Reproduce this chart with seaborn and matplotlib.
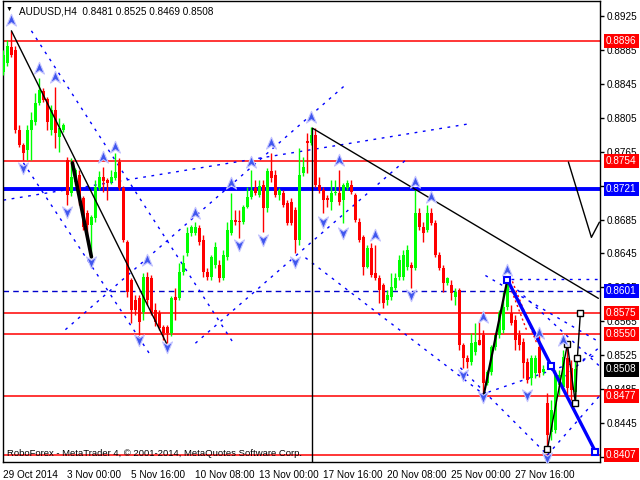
import numpy as np
import matplotlib
matplotlib.use("Agg")
import matplotlib.pyplot as plt
import seaborn as sns
from matplotlib.path import Path
import matplotlib.transforms as mtrans

sns.set_theme(style="white")
plt.rcParams['font.family'] = ['Liberation Sans', 'DejaVu Sans']

# ---------------- data ----------------
opens = [0.8859,0.8870,0.8889,0.8885,0.8791,0.8773,0.8767,0.8791,0.8800,0.8823,
         0.8837,0.8827,0.8791,0.8815,0.8783,0.8791,0.8755,0.8716,0.8729,0.8738,
         0.8711,0.8693,0.8679,0.8687,0.8722,0.8735,0.8732,0.8729,0.8734,0.8753,
         0.8722,0.8659,0.8614,0.8590,0.8592,0.8576,0.8617,0.8616,0.8578,0.8575,
         0.8558,0.8558,0.8551,0.8594,0.8592,0.8623,0.8646,0.8669,0.8669,0.8675,
         0.8661,0.8623,0.8617,0.8631,0.8631,0.8616,0.8641,0.8669,0.8685,0.8683,
         0.8682,0.8700,0.8712,0.8722,0.8714,0.8726,0.8699,0.8742,0.8738,0.8714,
         0.8716,0.8705,0.8706,0.8696,0.8661,0.8740,0.8778,0.8775,0.8785,0.8726,
         0.8720,0.8711,0.8706,0.8716,0.8716,0.8708,0.8722,0.8726,0.8714,0.8682,
         0.8665,0.8629,0.8652,0.8622,0.8616,0.8608,0.8590,0.8594,0.8604,0.8617,
         0.8617,0.8629,0.8631,0.8628,0.8693,0.8676,0.8673,0.8693,0.8681,0.8643,
         0.8628,0.8610,0.8608,0.8594,0.8602,0.8537,0.8522,0.8517,0.8529,0.8543,
         0.8549,0.8492,0.8505,0.8535,0.8549,0.8555,0.8582,0.8575,0.8567,0.8549,
         0.8540,0.8517,0.8498,0.8504,0.8535,0.8505,0.8468,0.8434,0.8436,0.8490,
         0.8487,0.8522,0.8510,0.8481]
highs = [0.8885,0.8897,0.8908,0.8890,0.8797,0.8775,0.8797,0.8812,0.8835,0.8852,
         0.8840,0.8830,0.8820,0.8842,0.8805,0.8799,0.8759,0.8758,0.8746,0.8744,
         0.8713,0.8696,0.8690,0.8732,0.8742,0.8747,0.8734,0.8744,0.8764,0.8758,
         0.8725,0.8661,0.8616,0.8596,0.8596,0.8622,0.8623,0.8620,0.8587,0.8578,
         0.8561,0.8561,0.8595,0.8604,0.8634,0.8643,0.8676,0.8679,0.8682,0.8679,
         0.8667,0.8628,0.8643,0.8659,0.8637,0.8649,0.8682,0.8716,0.8696,0.8696,
         0.8702,0.8724,0.8744,0.8732,0.8732,0.8732,0.8746,0.8764,0.8744,0.8722,
         0.8720,0.8708,0.8711,0.8700,0.8770,0.8759,0.8787,0.8794,0.8793,0.8735,
         0.8724,0.8714,0.8732,0.8732,0.8744,0.8728,0.8732,0.8732,0.8716,0.8687,
         0.8667,0.8655,0.8657,0.8655,0.8620,0.8610,0.8602,0.8622,0.8622,0.8643,
         0.8649,0.8655,0.8635,0.8720,0.8699,0.8682,0.8702,0.8699,0.8685,0.8647,
         0.8631,0.8617,0.8614,0.8604,0.8604,0.8539,0.8525,0.8551,0.8563,0.8564,
         0.8555,0.8507,0.8537,0.8549,0.8578,0.8600,0.8614,0.8584,0.8572,0.8555,
         0.8545,0.8522,0.8525,0.8525,0.8551,0.8513,0.8480,0.8472,0.8507,0.8507,
         0.8531,0.8539,0.8519,0.8525]
lows = [0.8856,0.8866,0.8877,0.8787,0.8771,0.8755,0.8755,0.8755,0.8797,0.8820,
        0.8824,0.8791,0.8785,0.8770,0.8765,0.8788,0.8702,0.8713,0.8726,0.8702,
        0.8673,0.8663,0.8641,0.8682,0.8720,0.8718,0.8708,0.8727,0.8732,0.8720,
        0.8659,0.8594,0.8563,0.8572,0.8549,0.8567,0.8584,0.8572,0.8559,0.8555,
        0.8543,0.8539,0.8548,0.8567,0.8590,0.8620,0.8642,0.8666,0.8667,0.8655,
        0.8617,0.8614,0.8614,0.8628,0.8611,0.8614,0.8637,0.8667,0.8679,0.8663,
        0.8680,0.8699,0.8709,0.8714,0.8712,0.8670,0.8694,0.8729,0.8712,0.8708,
        0.8700,0.8679,0.8679,0.8646,0.8655,0.8737,0.8740,0.8773,0.8724,0.8716,
        0.8693,0.8700,0.8696,0.8714,0.8702,0.8681,0.8720,0.8715,0.8682,0.8659,
        0.8620,0.8628,0.8617,0.8614,0.8587,0.8581,0.8584,0.8590,0.8602,0.8614,
        0.8614,0.8626,0.8604,0.8626,0.8673,0.8659,0.8670,0.8679,0.8641,0.8626,
        0.8600,0.8608,0.8590,0.8584,0.8531,0.8510,0.8510,0.8513,0.8525,0.8537,
        0.8480,0.8490,0.8501,0.8531,0.8545,0.8551,0.8578,0.8561,0.8531,0.8531,
        0.8498,0.8492,0.8490,0.8498,0.8499,0.8501,0.8413,0.8425,0.8433,0.8478,
        0.8484,0.8478,0.8472,0.8469]
closes = [0.8879,0.8890,0.8879,0.8791,0.8773,0.8764,0.8791,0.8803,0.8823,0.8838,
          0.8826,0.8800,0.8815,0.8787,0.8793,0.8797,0.8714,0.8735,0.8744,0.8708,
          0.8676,0.8679,0.8688,0.8724,0.8735,0.8731,0.8728,0.8735,0.8741,0.8722,
          0.8661,0.8600,0.8578,0.8578,0.8564,0.8617,0.8590,0.8575,0.8564,0.8557,
          0.8551,0.8551,0.8592,0.8590,0.8623,0.8634,0.8669,0.8676,0.8676,0.8659,
          0.8623,0.8617,0.8641,0.8653,0.8616,0.8643,0.8673,0.8685,0.8682,0.8682,
          0.8700,0.8712,0.8720,0.8716,0.8725,0.8699,0.8742,0.8734,0.8714,0.8720,
          0.8702,0.8681,0.8681,0.8661,0.8738,0.8747,0.8775,0.8785,0.8726,0.8720,
          0.8708,0.8708,0.8716,0.8718,0.8706,0.8726,0.8728,0.8718,0.8685,0.8661,
          0.8629,0.8652,0.8620,0.8616,0.8602,0.8587,0.8596,0.8605,0.8616,0.8637,
          0.8643,0.8649,0.8628,0.8693,0.8676,0.8669,0.8693,0.8681,0.8643,0.8628,
          0.8610,0.8616,0.8598,0.8600,0.8537,0.8522,0.8517,0.8539,0.8540,0.8537,
          0.8492,0.8505,0.8535,0.8549,0.8575,0.8582,0.8610,0.8563,0.8543,0.8537,
          0.8516,0.8496,0.8522,0.8522,0.8504,0.8508,0.8431,0.8460,0.8504,0.8501,
          0.8523,0.8486,0.8484,0.8508]

time_tick_bars = [0, 16, 32, 48, 64, 80, 96, 112, 128]
time_tick_labels = ["29 Oct 2014", "3 Nov 00:00", "5 Nov 16:00", "10 Nov 08:00",
                    "13 Nov 00:00", "17 Nov 16:00", "20 Nov 08:00", "25 Nov 00:00",
                    "27 Nov 16:00"]
price_ticks = [0.8925, 0.8885, 0.8845, 0.8805, 0.8765, 0.8725, 0.8685, 0.8645,
               0.8605, 0.8565, 0.8525, 0.8485, 0.8445, 0.8405]
red_levels = [0.8896, 0.8754, 0.8575, 0.8550, 0.8477, 0.8407]
blue_level = 0.8721
dashed_level = 0.8601
label_boxes = [(0.8896, "#ff0000"), (0.8754, "#ff0000"), (0.8721, "#0000ff"),
               (0.8601, "#0000ff"), (0.8575, "#ff0000"), (0.8550, "#ff0000"),
               (0.8508, "#000000"), (0.8477, "#ff0000"), (0.8407, "#ff0000")]

# fractal arrows (bar, price)
up_bars = [2, 9, 13, 25, 28, 36, 48, 57, 62, 67, 77, 84, 93, 103, 107, 120, 126, 134, 140]
up_prices = [0.8921, 0.8864, 0.8853, 0.8759, 0.8771, 0.8637, 0.8693, 0.8728, 0.8753,
             0.8775, 0.8806, 0.8755, 0.8667, 0.8729, 0.8712, 0.8570, 0.8626, 0.8551, 0.8543]
dn_bars = [5, 16, 22, 34, 41, 59, 65, 73, 80, 85, 102, 115, 120, 131, 136]
dn_prices = [0.8746, 0.8694, 0.8635, 0.8543, 0.8534, 0.8655, 0.8661, 0.8635, 0.8682,
             0.8669, 0.8596, 0.8501, 0.8476, 0.8478, 0.8403]

# trend lines (bar, price)
black_lines = [
    ([2, 40.75], [0.8908, 0.8539], 1.0),
    ([17.25, 22], [0.8752, 0.8641], 2.6),
    ([77.25, 148.75], [0.8793, 0.8592], 1.0),
    ([77.25, 77.25], [0.8793, 0.8399], 1.0),
    ([141.25, 147, 149], [0.8753, 0.8664, 0.8682], 1.0),
    ([120, 126], [0.8476, 0.8614], 1.6),
]
blue_thick_bars = [126, 137, 148]
blue_thick_prices = [0.8614, 0.8512, 0.8411]
dashed_lines = [
    ([0, 116.25], [0.8708, 0.8798]),
    ([7, 57.25], [0.8908, 0.8541]),
    ([5, 36.75], [0.8752, 0.8525]),
    ([15.5, 85.5], [0.8555, 0.8844]),
    ([48, 100.5], [0.8539, 0.8755]),
    ([75.5, 120.5], [0.8640, 0.8477]),
    ([120.5, 148.75], [0.8619, 0.8541]),
    ([119.25, 148.75], [0.8478, 0.8526]),
    ([128.5, 149.25], [0.8602, 0.8511]),
    ([140, 149.25], [0.8499, 0.8535]),
    ([114.25, 136], [0.8510, 0.8407]),
    ([136, 149.25], [0.8407, 0.8478]),
    ([127, 149.5], [0.8615, 0.8615]),
]
red_dotted = [
    ([126.25, 131], [0.8611, 0.8552]),
    ([127.25, 133.25], [0.8612, 0.8540]),
]
forecast_bars = [136, 141, 143, 143.5, 144.25]
forecast_prices = [0.8414, 0.8538, 0.8468, 0.8522, 0.8575]

# ---------------- figure ----------------
W, H = 640, 480
fig = plt.figure(figsize=(6.4, 4.8), dpi=100)
fig.patch.set_facecolor("white")
ax = fig.add_axes([3 / W, 1 - 462 / H, 597 / W, 461 / H])
ax.set_facecolor("white")
ax.set_xlim(-0.1, 149.15)
ax.set_ylim(0.83987, 0.89432)

bars = np.arange(len(opens))
o = np.array(opens); c = np.array(closes); h = np.array(highs); l = np.array(lows)
up = c >= o
col = np.where(up, "#00ff00", "#ff0000")
ax.vlines(bars, l, h, colors=col, linewidth=1, zorder=3)
ax.bar(bars, np.maximum(np.abs(c - o), 0.00006), bottom=np.minimum(o, c),
       width=0.72, color=col, linewidth=0, zorder=3)

# horizontal levels
for lv in red_levels:
    ax.axhline(lv, color="#ff0000", lw=1.1, zorder=2)
ax.axhline(blue_level, color="#0000ff", lw=2.8, zorder=2)
ax.axhline(dashed_level, color="#0000cc", lw=1, ls=(0, (4, 3)), zorder=2)

for xs, ys in dashed_lines:
    ax.plot(xs, ys, color="#0000ff", lw=1, ls=(0, (2, 4)), zorder=2)
for xs, ys in red_dotted:
    ax.plot(xs, ys, color="#ff0000", lw=1, ls=(0, (1.5, 2)), zorder=2)
for xs, ys, lw in black_lines:
    ax.plot(xs, ys, color="black", lw=lw, zorder=4)
ax.plot(blue_thick_bars, blue_thick_prices, color="#0000ff", lw=2.4, zorder=4,
        marker="s", ms=5, mfc="white", mec="#0000ff", mew=1.5)
ax.plot(forecast_bars, forecast_prices, color="black", lw=1, zorder=5,
        marker="s", ms=4.5, mfc="white", mec="black", mew=1)

# fractal arrows
arrow_up = Path([(0, 1), (0.8, -0.9), (0, -0.35), (-0.8, -0.9), (0, 1)],
                [Path.MOVETO, Path.LINETO, Path.LINETO, Path.LINETO, Path.CLOSEPOLY])
arrow_dn = Path([(0, -1), (0.8, 0.9), (0, 0.35), (-0.8, 0.9), (0, -1)],
                [Path.MOVETO, Path.LINETO, Path.LINETO, Path.LINETO, Path.CLOSEPOLY])
sns.scatterplot(x=up_bars, y=up_prices, marker=arrow_up, s=80, color="#4057ee",
                edgecolor="#c4c4ff", linewidth=0.8, ax=ax, zorder=6, legend=False)
sns.scatterplot(x=dn_bars, y=dn_prices, marker=arrow_dn, s=80, color="#4057ee",
                edgecolor="#c4c4ff", linewidth=0.8, ax=ax, zorder=6, legend=False)

# axes styling
for s in ax.spines.values():
    s.set_color("black"); s.set_linewidth(1)
ax.yaxis.tick_right()
ax.set_yticks(price_ticks)
ax.set_yticklabels([f"{p:.4f}" for p in price_ticks], fontsize=7.2)
ax.set_xticks(time_tick_bars)
ax.set_xticklabels(time_tick_labels, fontsize=7.2, ha="left")
ax.tick_params(axis="both", direction="out", length=3, width=1, color="black",
               labelcolor="black", pad=2)
ax.tick_params(axis="x", pad=3)
ax.set_xlabel(""); ax.set_ylabel("")
ax.grid(False)

trans = mtrans.blended_transform_factory(ax.transAxes, ax.transData)
for p, fc in label_boxes:
    ax.text(1.0 + 6 / 597, p, f"{p:.4f}", transform=trans, fontsize=7.2, color="white",
            va="center", ha="left", zorder=10, clip_on=False,
            bbox=dict(boxstyle="square,pad=0.22", fc=fc, ec="none"))

fig.text(19 / W, 1 - 11 / H, "AUDUSD,H4  0.8481 0.8525 0.8469 0.8508", fontsize=7.2,
         va="center", ha="left", color="black")
fig.text(9 / W, 1 - 9 / H, "\u25bc", fontsize=5, va="center", ha="center", color="black")
fig.text(7 / W, 1 - 453 / H, "RoboForex - MetaTrader 4, \u00a9 2001-2014, MetaQuotes Software Corp.",
         fontsize=6.8, va="center", ha="left", color="black")

fig.savefig("out.png", dpi=100)
